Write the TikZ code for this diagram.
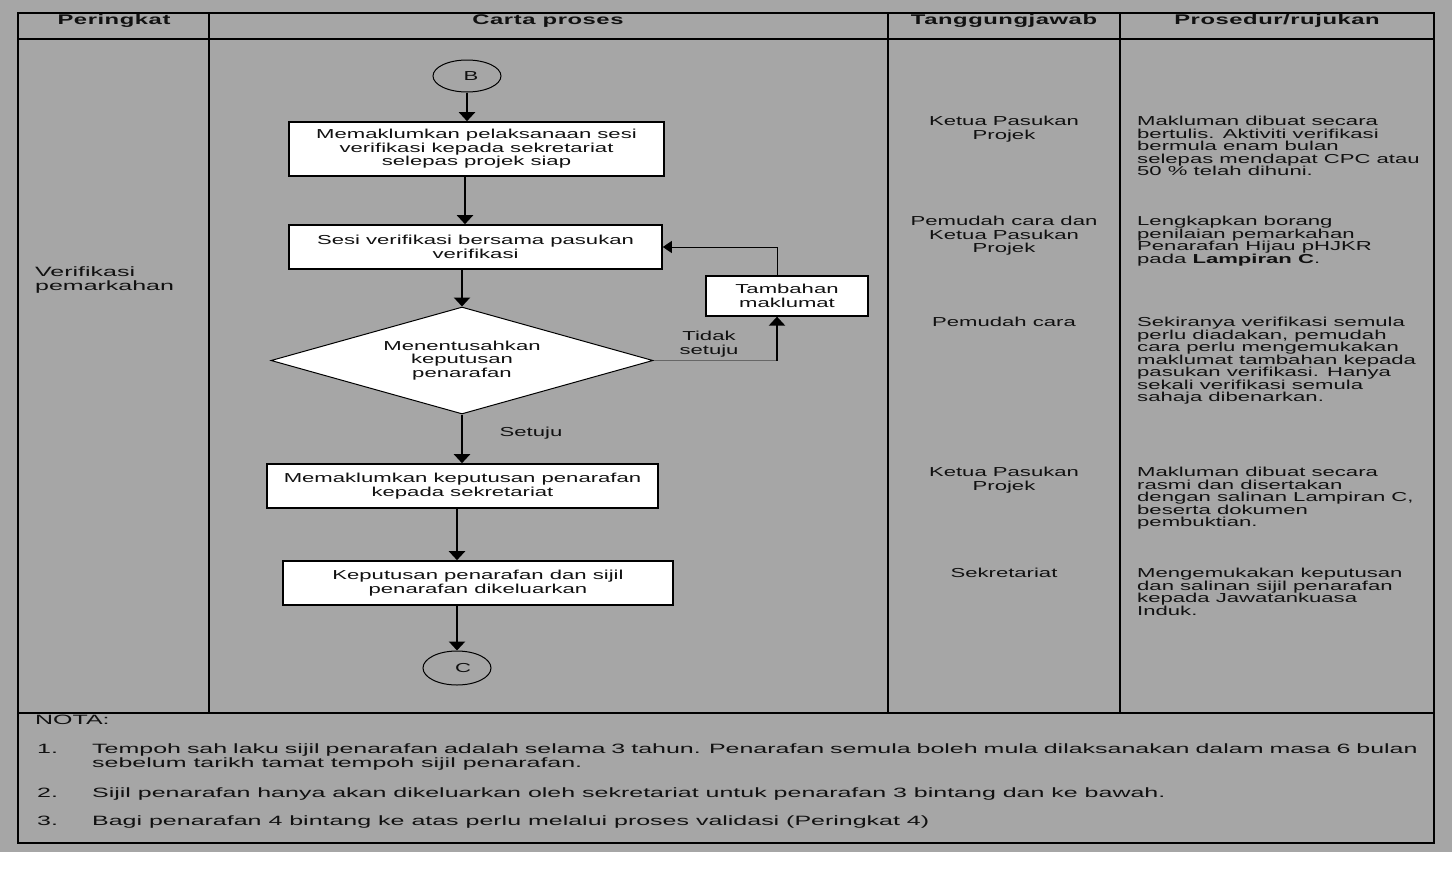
\documentclass[tikz,border=0pt]{standalone}
\usepackage{fontspec}
\setmainfont{Liberation Sans}[FakeStretch=1.7]
\newfontfamily\tajukfont{Liberation Sans}[FakeStretch=1.7,LetterSpace=4]
\newfontfamily\notafont{Liberation Sans}[FakeStretch=1.85]
\usetikzlibrary{shapes.geometric,arrows.meta,positioning}
\definecolor{latar}{RGB}{166,166,166}
\definecolor{dakwat}{RGB}{17,17,17}
\newcommand{\teks}{\fontsize{13}{13.5}\selectfont}
\newcommand{\teksrapat}{\fontsize{13}{12.5}\selectfont}
\newcommand{\teksnota}{\notafont\fontsize{13.5}{14}\selectfont}
\tikzset{
  proses/.style={draw=black, line width=1.6pt, fill=white, inner sep=0pt, align=center, font=\teks, text=dakwat},
  keputusan/.style={diamond, draw=black, line width=1pt, fill=white, aspect=3.57, minimum width=382pt, minimum height=107pt, inner sep=0pt, align=center, font=\teks, text=dakwat},
  penyambung/.style={ellipse, draw=black, line width=1pt, minimum width=68pt, minimum height=32pt, inner sep=0pt, font=\teks, text=dakwat},
  anak/.style={-{Triangle[width=16pt,length=9pt]}, line width=2.2pt},
  tulisan/.style={inner sep=0pt, font=\teks, align=center, text=dakwat},
  nota/.style={inner sep=0pt, font=\teksnota, align=left, anchor=north west, text=dakwat},
  rujukan/.style={inner sep=0pt, font=\teksrapat, align=left, anchor=north west, text=dakwat},
  tajuk/.style={inner sep=0pt, font={\tajukfont\bfseries\fontsize{14}{14}\selectfont}, text=dakwat},
  garis/.style={line width=1.3pt, draw=black}
}
\begin{document}
\begin{tikzpicture}[x=1pt,y=-1pt]
  \useasboundingbox (0,0) rectangle (1452,881);
  \fill[white] (0,0) rectangle (1452,881);
  \fill[latar] (0,0) rectangle (1452,852);

  % jadual
  \draw[garis] (18,13) rectangle (1434,843);
  \draw[garis] (18,39) -- (1434,39);
  \draw[garis] (18,713) -- (1434,713);
  \foreach \lajur in {209,888,1120}
    \draw[garis] (\lajur,13) -- (\lajur,713);

  \node[tajuk] (hPeringkat) at (114,21) {Peringkat};
  \node[tajuk] (hCarta) at (548,21) {Carta proses};
  \node[tajuk] (hTanggung) at (1004,21) {Tanggungjawab};
  \node[tajuk] (hProsedur) at (1277,21) {Prosedur/rujukan};

  \node[nota] (peringkat) at (35,267) {Verifikasi\\pemarkahan};

  % carta proses
  \node[penyambung] (B) at (467,76) {\hspace{8pt}B};
  \node[proses, minimum width=375pt, minimum height=54pt] (maklum) at (476.5,149) {Memaklumkan pelaksanaan sesi\\verifikasi kepada sekretariat\\selepas projek siap};
  \node[proses, minimum width=373pt, minimum height=44pt] (sesi) at (475.5,247) {Sesi verifikasi bersama pasukan\\verifikasi};
  \node[keputusan] (tentu) at (462,360.5) {Menentusahkan\\keputusan\\penarafan};
  \node[proses, line width=1.3pt, minimum width=162pt, minimum height=40pt] (tambah) at (787,296) {Tambahan\\maklumat};
  \node[proses, minimum width=391pt, minimum height=44pt] (makluputus) at (462.5,486) {Memaklumkan keputusan penarafan\\kepada sekretariat};
  \node[proses, minimum width=390pt, minimum height=44pt] (sijil) at (478,583) {Keputusan penarafan dan sijil\\penarafan dikeluarkan};
  \node[penyambung, minimum height=34pt] (C) at (457,668) {\hspace{12pt}C};

  \draw[anak] (B.south) -- (B.south |- maklum.north);
  \draw[anak] ([xshift=-2pt]maklum.south -| B.south) -- ([xshift=-2pt]sesi.north -| B.south);
  \draw[anak] (sesi.south -| tentu.north) -- (tentu.north);
  \draw[anak] (tentu.south) -- (tentu.south |- makluputus.north);
  \draw[anak] (makluputus.south -| C.north) -- (sijil.north -| C.north);
  \draw[anak] (sijil.south -| C.north) -- (C.north);

  \coordinate (belok) at ([xshift=-10pt]tambah.south);
  \draw[line width=0.8pt, draw=black!60] (tentu.east) -- (tentu.east -| belok);
  \draw[anak] (tentu.east -| belok) -- (belok);
  \draw[line width=1pt, -{Triangle[width=12pt,length=9pt]}] ([xshift=-10pt]tambah.north) |- (sesi.east);

  \node[tulisan] (tidak) at (709,344) {Tidak\\setuju};
  \node[tulisan] (setuju) at (531,433) {Setuju};

  % tanggungjawab
  \node[tulisan, anchor=north] (t1) at (1004,116) {Ketua Pasukan\\Projek};
  \node[tulisan, anchor=north] (t2) at (1004,216) {Pemudah cara dan\\Ketua Pasukan\\Projek};
  \node[tulisan, anchor=north] (t3) at (1004,317) {Pemudah cara};
  \node[tulisan, anchor=north] (t4) at (1004,467) {Ketua Pasukan\\Projek};
  \node[tulisan, anchor=north] (t5) at (1004,568) {Sekretariat};

  % prosedur
  \node[rujukan] (r1) at (1137,116) {Makluman dibuat secara\\bertulis. Aktiviti verifikasi\\bermula enam bulan\\selepas mendapat CPC atau\\50 \% telah dihuni.};
  \node[rujukan] (r2) at (1137,216) {Lengkapkan borang\\penilaian pemarkahan\\Penarafan Hijau pHJKR\\pada \textbf{Lampiran C}.};
  \node[rujukan] (r3) at (1137,317) {Sekiranya verifikasi semula\\perlu diadakan, pemudah\\cara perlu mengemukakan\\maklumat tambahan kepada\\pasukan verifikasi. Hanya\\sekali verifikasi semula\\sahaja dibenarkan.};
  \node[rujukan] (r4) at (1137,467) {Makluman dibuat secara\\rasmi dan disertakan\\dengan salinan Lampiran C,\\beserta dokumen\\pembuktian.};
  \node[rujukan] (r5) at (1137,568) {Mengemukakan keputusan\\dan salinan sijil penarafan\\kepada Jawatankuasa\\Induk.};

  % nota
  \node[nota] (nota) at (35,715) {NOTA:};
  \node[nota] (n1) at (37,744) {1.};
  \node[nota] (nt1) at (92,744) {{\spaceskip=0.86\fontdimen2\font\relax Tempoh sah laku sijil penarafan adalah selama 3 tahun. Penarafan semula boleh mula dilaksanakan dalam masa 6 bulan}\\sebelum tarikh tamat tempoh sijil penarafan.};
  \node[nota] (n2) at (37,788) {2.};
  \node[nota] (nt2) at (92,788) {Sijil penarafan hanya akan dikeluarkan oleh sekretariat untuk penarafan 3 bintang dan ke bawah.};
  \node[nota] (n3) at (37,816) {3.};
  \node[nota] (nt3) at (92,816) {Bagi penarafan 4 bintang ke atas perlu melalui proses validasi (Peringkat 4)};
\end{tikzpicture}
\end{document}
